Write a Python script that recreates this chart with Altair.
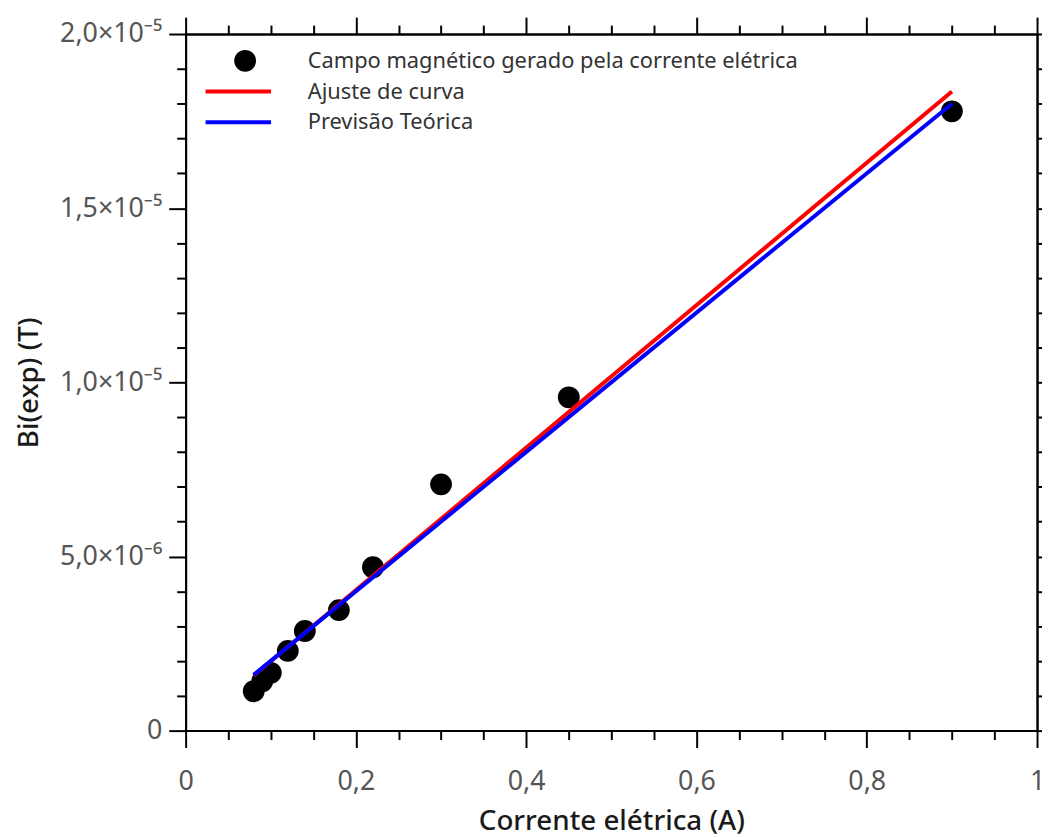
import altair as alt
import pandas as pd

FONT = "Noto Sans"

x_title = "Corrente elétrica (A)"
y_title = "Bi(exp) (T)"
serie_names = ["Campo magnético gerado pela corrente elétrica", "Ajuste de curva", "Previsão Teórica"]
serie_colors = ["#000000", "#ff0000", "#0000ff"]
# legend symbols: a circle and two long horizontal strokes (kept inside the legend entry)
serie_shapes = ["M4.333,0A1,1,0,1,1,2.333,0A1,1,0,1,1,4.333,0Z",
                "M-1.1,0H6.233", "M-1.1,0H6.233"]

# measured points
corrente = [0.08, 0.09, 0.10, 0.12, 0.14, 0.18, 0.22, 0.30, 0.45, 0.90]
campo = [1.13e-6, 1.42e-6, 1.66e-6, 2.29e-6, 2.86e-6, 3.46e-6, 4.69e-6, 7.07e-6, 9.57e-6, 1.778e-5]

# fitted line and theoretical prediction (end points)
ajuste_x = [0.08, 0.90]
ajuste_y = [1.58e-6, 1.835e-5]
teorica_x = [0.08, 0.90]
teorica_y = [1.60e-6, 1.80e-5]

x_major = [0.0, 0.2, 0.4, 0.6, 0.8, 1.0]
x_major_labels = ["0", "0,2", "0,4", "0,6", "0,8", "1"]
x_minor = [0.05, 0.10, 0.15, 0.25, 0.30, 0.35, 0.45, 0.50, 0.55, 0.65, 0.70, 0.75, 0.85, 0.90, 0.95]
y_major = [0.0, 5e-6, 1e-5, 1.5e-5, 2e-5]
y_major_labels = ["0", "5,0×10⁻⁶", "1,0×10⁻⁵", "1,5×10⁻⁵", "2,0×10⁻⁵"]
y_minor = [1e-6, 2e-6, 3e-6, 4e-6, 6e-6, 7e-6, 8e-6, 9e-6, 1.1e-5, 1.2e-5, 1.3e-5, 1.4e-5,
           1.6e-5, 1.7e-5, 1.8e-5, 1.9e-5]


def label_expr(values, labels, tol):
    expr = "''"
    for v, l in reversed(list(zip(values, labels))):
        expr = f"abs(datum.value - ({v!r})) < {tol} ? '{l}' : " + expr
    return expr


pts = pd.DataFrame({"x": corrente, "y": campo, "serie": serie_names[0]})
fit = pd.DataFrame({"x": ajuste_x, "y": ajuste_y, "serie": serie_names[1]})
teo = pd.DataFrame({"x": teorica_x, "y": teorica_y, "serie": serie_names[2]})
leg = pd.DataFrame({"x": pd.Series([], dtype=float), "y": pd.Series([], dtype=float),
                    "serie": pd.Series([], dtype=str)})

common = dict(grid=False, domainColor="black", domainWidth=2, tickColor="black", tickWidth=2,
              labelFont=FONT, labelFontSize=27, labelColor="#555555", titleFont=FONT,
              labelFlush=False)

xs = alt.Scale(domain=[0, 1], nice=False, zero=False)
ys = alt.Scale(domain=[0, 2e-5], nice=False, zero=False)

ax_x_bottom = alt.Axis(orient="bottom", values=x_major, tickSize=17, labelPadding=21,
                       labelExpr=label_expr(x_major, x_major_labels, 1e-6),
                       title=x_title, titleFontSize=28, titleFontWeight=500, titleColor="#1a1a1a",
                       titlePadding=14, **common)
ax_x_bottom_minor = alt.Axis(orient="bottom", values=x_minor, tickSize=9, labels=False, title=None, **common)
ax_x_top = alt.Axis(orient="top", values=x_major, tickSize=17, labels=False, title=None, **common)
ax_x_top_minor = alt.Axis(orient="top", values=x_minor, tickSize=9, labels=False, title=None, **common)

ax_y_left = alt.Axis(orient="left", values=y_major, tickSize=17, labelPadding=7,
                     labelExpr=label_expr(y_major, y_major_labels, 1e-9),
                     title=y_title, titleFontSize=28, titleFontWeight=500, titleColor="#1a1a1a",
                     titlePadding=16, **common)
ax_y_left_minor = alt.Axis(orient="left", values=y_minor, tickSize=9, labels=False, title=None, **common)
ax_y_right = alt.Axis(orient="right", values=y_major, tickSize=17, labels=False, title=None, **common)
ax_y_right_minor = alt.Axis(orient="right", values=y_minor, tickSize=9, labels=False, title=None, **common)

color_scale = alt.Scale(domain=serie_names, range=serie_colors)
shape_scale = alt.Scale(domain=serie_names, range=serie_shapes)

legend = alt.Legend(
    title=None, orient="none", legendX=19, legendY=14,
    symbolSize=324, symbolStrokeWidth=4, labelFont=FONT, labelFontSize=22, labelLimit=1000,
    labelColor="#333333", labelOffset=82, rowPadding=5, clipHeight=26,
)

points = alt.Chart(pts).mark_point(filled=True, color="black", size=484, opacity=1).encode(
    x=alt.X("x:Q", scale=xs, axis=ax_x_bottom),
    y=alt.Y("y:Q", scale=ys, axis=ax_y_left),
)

red = alt.Chart(fit).mark_line(strokeWidth=4).encode(
    x=alt.X("x:Q", scale=xs, axis=ax_x_bottom_minor),
    y=alt.Y("y:Q", scale=ys, axis=ax_y_left_minor),
    color=alt.Color("serie:N", scale=color_scale, legend=legend),
)

blue = alt.Chart(teo).mark_line(strokeWidth=4).encode(
    x=alt.X("x:Q", scale=xs, axis=ax_x_top),
    y=alt.Y("y:Q", scale=ys, axis=ax_y_right),
    color=alt.Color("serie:N", scale=color_scale, legend=legend),
)

# carries the legend (no rows of its own) and the top / right minor ticks
legend_layer = alt.Chart(leg).mark_point(filled=False, fill="black", strokeWidth=4, opacity=1).encode(
    x=alt.X("x:Q", scale=xs, axis=ax_x_top_minor),
    y=alt.Y("y:Q", scale=ys, axis=ax_y_right_minor),
    color=alt.Color("serie:N", scale=color_scale, legend=legend),
    shape=alt.Shape("serie:N", scale=shape_scale, legend=legend),
)

chart = alt.layer(points, red, blue, legend_layer).resolve_scale(
    x="shared", y="shared", color="shared", shape="shared"
).resolve_axis(
    x="independent", y="independent"
).properties(
    width=858, height=702,
    autosize=alt.AutoSizeParams(type="none"),
    padding={"left": 179, "top": 23, "right": 5, "bottom": 105},
).configure_view(stroke=None).configure(background="white")

chart.save("out.html", embed_options={"renderer": "svg", "actions": False})
